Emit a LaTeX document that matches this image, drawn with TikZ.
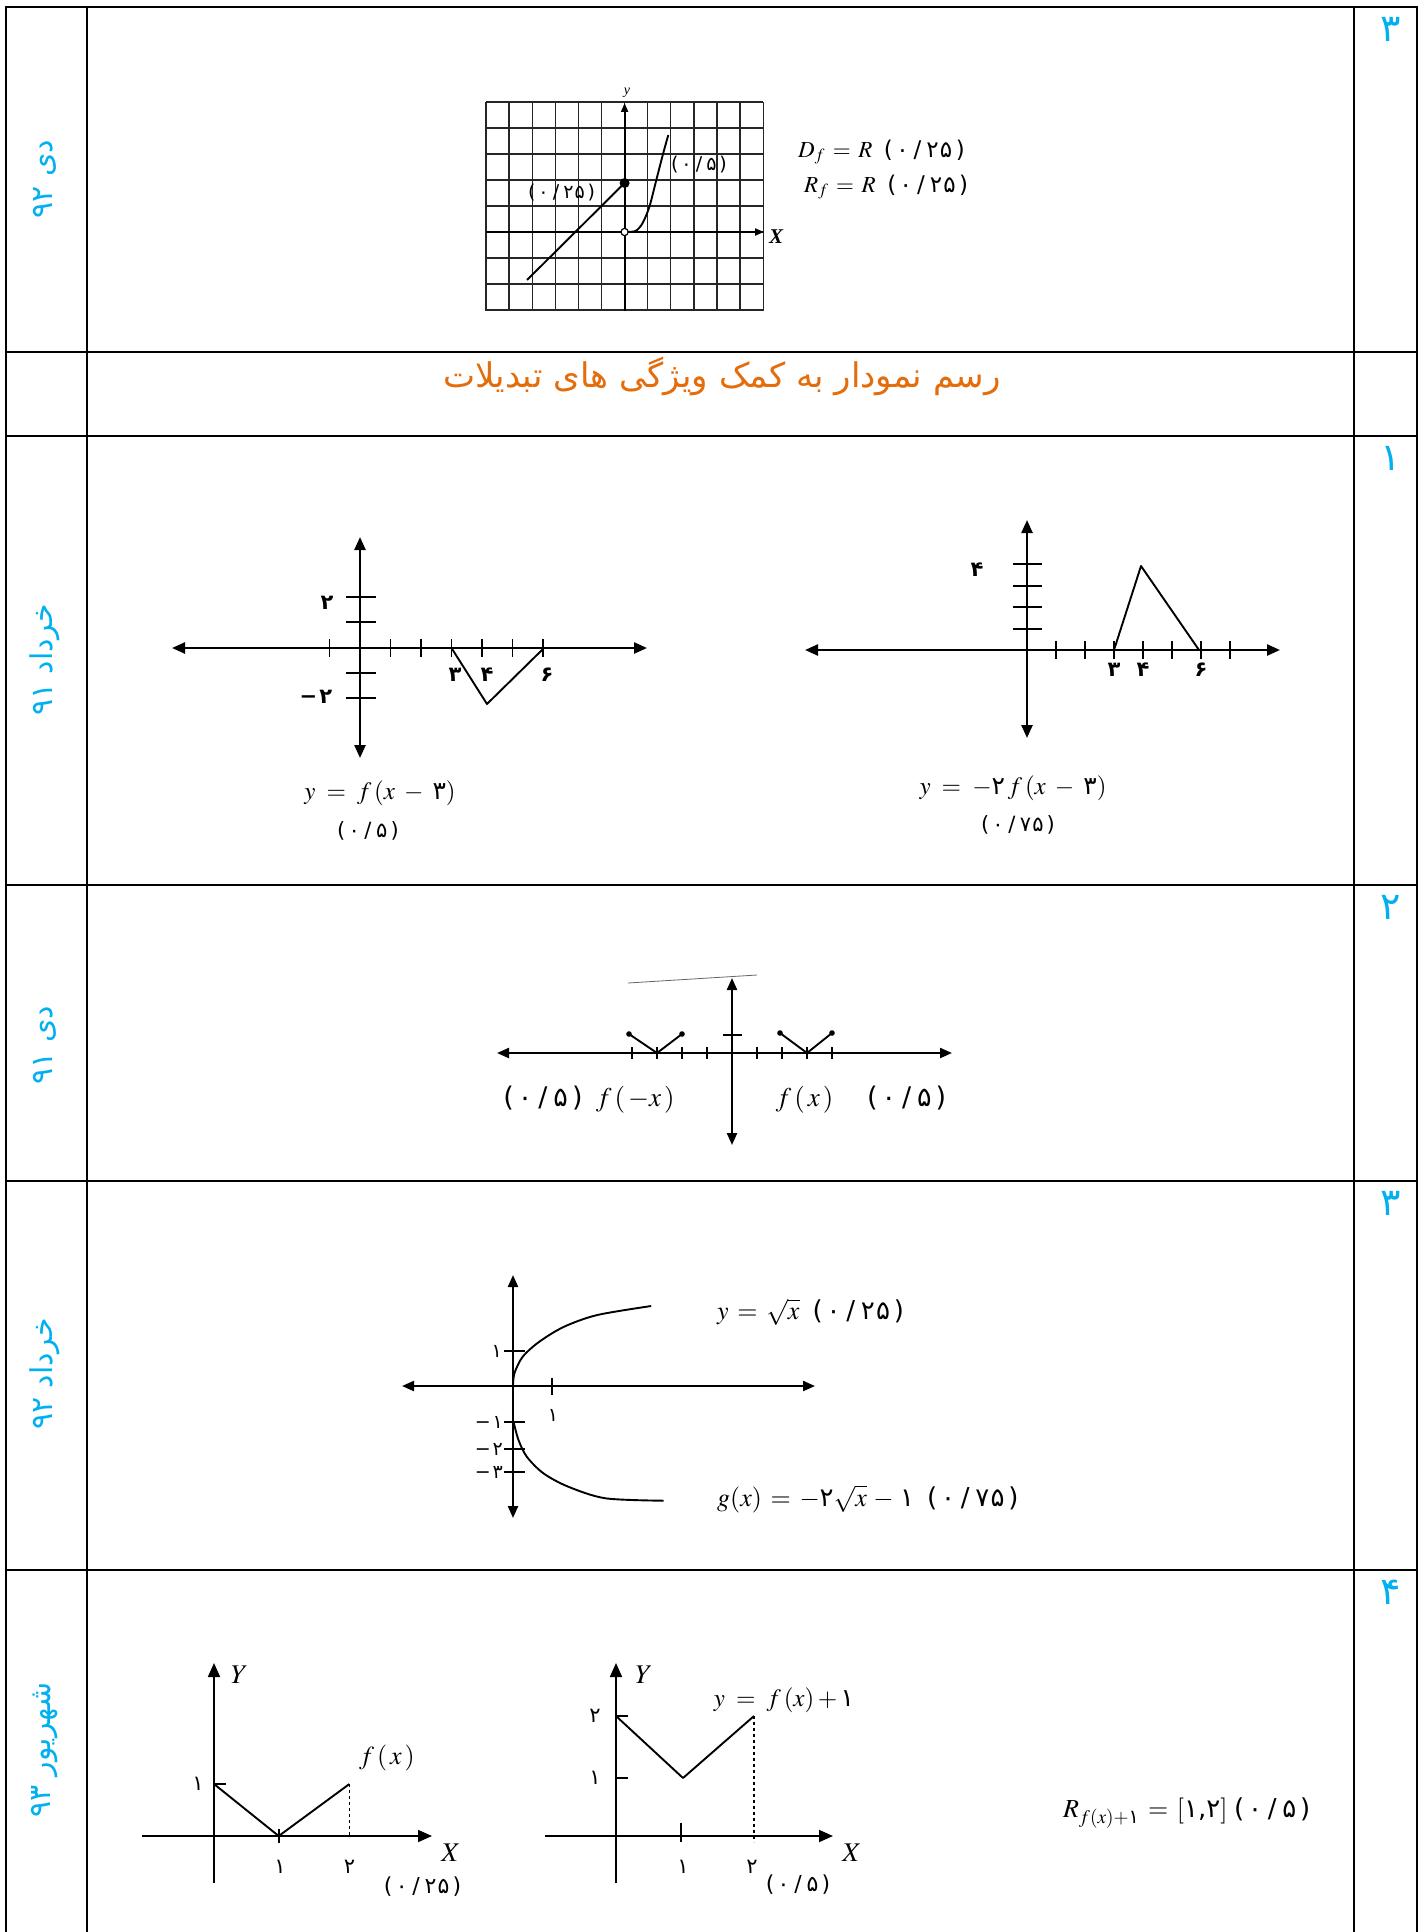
\documentclass[tikz,border=0pt]{standalone}
\usepackage{amsmath}
\usepackage{mathptmx}
\usepackage{fontspec}
\setmainfont{Liberation Serif}
\usetikzlibrary{arrows.meta}
\TeXXeTstate=1
\newfontfamily\arabicfont[Script=Arabic]{DejaVu Sans}
\newfontfamily\pnum{DejaVu Sans}
\newcommand{\pn}[1]{\text{\pnum #1}}
\newcommand{\mk}[1]{\text{\pnum(\kern.15em ۰\kern.22em/\kern.22em #1\kern.15em)}}
\newcommand{\fsz}[1]{\fontsize{#1}{#1}\selectfont}
\definecolor{cy}{RGB}{0,176,240}
\definecolor{org}{RGB}{228,108,10}
\tikzset{
  frame/.style={line width=2.2pt, line cap=rect},
  gridl/.style={line width=1.3pt, black!85},
  gax/.style={line width=2pt, -{Triangle[length=9pt,width=7pt]}},
  axb/.style={line width=2.4pt, {Triangle[length=13pt,width=11pt]}-{Triangle[length=13pt,width=11pt]}},
  axs/.style={line width=2.2pt, {Triangle[length=12pt,width=10pt]}-{Triangle[length=12pt,width=10pt]}},
  axo/.style={line width=1.8pt, -{Triangle[length=14pt,width=12pt]}},
  fn/.style={line width=1.9pt, line join=round},
  tk/.style={line width=1.8pt},
  lbl/.style={inner sep=0pt, font=\fsz{22}},
  sm/.style={inner sep=0pt, font=\fsz{21}\bfseries},
  th/.style={inner sep=0pt, font=\fsz{21}},
  lcol/.style={rotate=90, text=cy, inner sep=0pt, font=\fsz{30}},
  num/.style={text=cy, inner sep=0pt, font=\fsz{38}},
}
\begin{document}
\begin{tikzpicture}[x=1pt,y=-1pt]
\useasboundingbox (0,0) rectangle (1426,1932);
\fill[white] (0,0) rectangle (1426,1932);
% ---------- table ----------
\foreach \yy in {7,352,436,885,1181,1570} \draw[frame] (6,\yy) -- (1417,\yy);
\foreach \xx in {6,87,1354,1417} \draw[frame] (\xx,7) -- (\xx,1932);
% right column numbers
\node[num] (n1) at (1391,29) {\arabicfont ۳};
\node[num] (n3) at (1391,458) {\arabicfont ۱};
\node[num] (n4) at (1391,907) {\arabicfont ۲};
\node[num] (n5) at (1391,1203) {\arabicfont ۳};
\node[num] (n6) at (1391,1592) {\arabicfont ۴};
% left column dates
\node[lcol] (d1) at (45,179) {\arabicfont\beginR دی \beginL۹۲\endL\endR};
\node[lcol] (d3) at (45,660) {\arabicfont\beginR خرداد \beginL۹۱\endL\endR};
\node[lcol] (d4) at (45,1045) {\arabicfont\beginR دی \beginL۹۱\endL\endR};
\node[lcol] (d5) at (45,1374) {\arabicfont\beginR خرداد \beginL۹۲\endL\endR};
\node[lcol] (d6) at (45,1750) {\arabicfont\beginR شهریور \beginL۹۳\endL\endR};
% title
\node[text=org, inner sep=0pt, font=\fsz{34}] (title) at (722,376) {\arabicfont\beginR رسم نمودار به کمک ویژگی های تبدیلات\endR};
% ---------- row 1 : grid graph ----------
\foreach \i in {0,...,12} \draw[gridl] ({486+23.1*\i},102) -- ({486+23.1*\i},311);
\foreach \j in {0,...,8} \draw[gridl] (486,{102+26*\j}) -- (763,{102+26*\j});
\draw[gax] (624.6,311) -- (624.6,103);
\draw[gax] (486,232) -- (764,232);
\node[inner sep=0pt, font=\fsz{14}\itshape] (ylab1) at (627,93) {y};
\node[inner sep=0pt, font=\fsz{21}\bfseries\itshape] (xlab1) at (776,237) {X};
\draw[fn] (527,280) -- (624.6,183);
\fill (624.6,183) circle (5);
\draw[fn] plot[smooth] coordinates {(627,231.7) (635.6,231) (642.5,223.3) (649.4,206.7) (656.3,180) (663.2,153.3) (668.3,135)};
\draw[line width=1.2pt, fill=white] (624.6,232) circle (3.6);
\node[lbl, font=\fsz{19}] (s1a) at (561.6,193) {\mk{۲\kern.05em۵}};
\node[lbl, font=\fsz{19}] (s1b) at (699,165) {\mk{۵}};
\node[lbl, anchor=west, font=\fsz{23}] (df) at (798,152) {$\boldsymbol{D_f \,=\, R}$\ \ \mk{۲\kern.05em۵}};
\node[lbl, anchor=west, font=\fsz{23}] (rf) at (804,187) {$\boldsymbol{R_f \,=\, R}$\ \ \mk{۲\kern.05em۵}};
% ---------- row 3 left ----------
\draw[axb] (172,648) -- (647,648);
\draw[axb] (360,537) -- (360,758);
\foreach \k in {-1,1,2,3,4,5,6} \draw[tk] ({360+30.5*\k},639) -- ({360+30.5*\k},657);
\foreach \yy in {597,622,673,698} \draw[tk] (346,\yy) -- (376,\yy);
\draw[fn] (451.5,648) -- (487,704) -- (543,649);
\node[sm] (a2) at (327,603) {\pn{۲}};
\node[sm] (am2) at (316,697) {\pn{−\kern.1em۲}};
\node[sm] (a3) at (455,675) {\pn{۳}};
\node[sm] (a4) at (487,675) {\pn{۴}};
\node[sm] (a6) at (547,675) {\pn{۶}};
\node[lbl, font=\fsz{25}] (capa) at (380,793) {$y \;=\; f\,(x \;-\; \pn{۳})$};
\node[lbl, font=\fsz{21}] (pa) at (368,831) {\mk{۵}};
% ---------- row 3 right ----------
\draw[axb] (805,650) -- (1280,650);
\draw[axb] (1027,520) -- (1027,738);
\foreach \k in {1,...,7} \draw[tk] ({1027+29*\k},641) -- ({1027+29*\k},659);
\foreach \yy in {629,607,586,564} \draw[tk] (1013,\yy) -- (1042,\yy);
\draw[fn] (1114,650) -- (1141,566) -- (1199,650);
\node[sm] (b4y) at (977,570) {\pn{۴}};
\node[sm] (b3) at (1114,670) {\pn{۳}};
\node[sm] (b4) at (1143,670) {\pn{۴}};
\node[sm] (b6) at (1201,670) {\pn{۶}};
\node[lbl, font=\fsz{25}] (capb) at (1013,788) {$y \;=\; -\pn{۲}\,f\,(x \;-\; \pn{۳})$};
\node[lbl, font=\fsz{21}] (pb) at (1018,825) {\mk{۷\kern.05em۵}};
% ---------- row 4 ----------
\draw[line width=0.8pt, black!60] (628,983) -- (757,975);
\draw[axs] (497,1053) -- (952,1053);
\draw[axs] (732,978) -- (732,1145);
\foreach \k in {-4,-3,-2,-1,1,2,3,4} \draw[line width=1.6pt] ({732+25*\k},1047) -- ({732+25*\k},1059);
\draw[line width=1.6pt] (723,1035) -- (742,1035);
\draw[fn] (629,1034) -- (657,1053) -- (682,1034);
\draw[fn] (780,1033) -- (807,1053) -- (832,1033);
\foreach \p in {(629,1034),(682,1034),(780,1033),(832,1033)} \fill \p circle (2.8);
\node[lbl, font=\fsz{27}] (fl) at (589,1100) {\mk{۵}\ \ $f\,(\,-x\,)$};
\node[lbl, font=\fsz{27}] (fr) at (861,1100) {$f\,(\,x\,)$\quad\ \mk{۵}};
% ---------- row 5 ----------
\draw[axs] (402,1386) -- (815,1386);
\draw[axs] (513,1275) -- (513,1518);
\draw[tk] (552,1378) -- (552,1395);
\foreach \yy in {1351,1422,1449,1472} \draw[tk] (504,\yy) -- (525,\yy);
\draw[fn] plot[smooth] coordinates {(513,1386) (514.4,1373.3) (522.7,1356.7) (539.3,1341.7) (564.1,1326.7) (597.3,1315) (651.2,1306)};
\draw[fn] plot[smooth] coordinates {(513.5,1421.7) (518.5,1440) (526.8,1456.7) (543.4,1473.3) (568.3,1486.7) (605.6,1498.3) (663.6,1500.7)};
\node[th, anchor=east, font=\fsz{19}] (c1) at (502,1351) {\pn{۱}};
\node[th, anchor=east, font=\fsz{19}] (cm1) at (503,1422) {\pn{−\kern.1em۱}};
\node[th, anchor=east, font=\fsz{19}] (cm2) at (503,1449) {\pn{−\kern.1em۲}};
\node[th, anchor=east, font=\fsz{19}] (cm3) at (503,1472) {\pn{−\kern.1em۳}};
\node[th, font=\fsz{19}] (cx1) at (553,1415) {\pn{۱}};
\node[lbl, anchor=west, font=\fsz{26}] (sq) at (717,1312) {$y \,=\, \sqrt{x}$\ \ \mk{۲\kern.05em۵}};
\node[lbl, anchor=west, font=\fsz{26}] (gx) at (717,1499) {$g(x) \,=\, -\pn{۲}\sqrt{x} \,-\, \pn{۱}$\ \ \mk{۷\kern.05em۵}};
% ---------- row 6 left ----------
\draw[axo] (142,1836) -- (432,1836);
\draw[axo] (214,1883) -- (214,1663);
\draw[tk] (214,1784) -- (226,1784);
\draw[tk] (278.7,1829) -- (278.7,1843);
\draw[fn] (214,1784) -- (278.7,1836) -- (349.4,1784);
\draw[line width=1.5pt, dashed] (349.4,1784) -- (349.4,1836);
\node[th] (e1y) at (198,1784) {\pn{۱}};
\node[th] (e1) at (280,1867) {\pn{۱}};
\node[th] (e2) at (349.4,1867) {\pn{۲}};
\node[lbl, font=\fsz{27}] (eY) at (239.5,1675) {$Y$};
\node[lbl, font=\fsz{27}] (eX) at (451,1853) {$X$};
\node[lbl, font=\fsz{26}] (ef) at (387,1758) {$f\,(\,x\,)$};
\node[lbl, font=\fsz{22}] (ep) at (422.6,1887) {\mk{۲\kern.05em۵}};
% ---------- row 6 right ----------
\draw[axo] (545,1836) -- (833,1836);
\draw[axo] (616,1883) -- (616,1663);
\draw[tk] (616,1716) -- (628,1716);
\draw[tk] (616,1778) -- (628,1778);
\draw[tk] (681,1823) -- (681,1842);
\draw[fn] (616,1716) -- (683,1778) -- (754,1716);
\draw[line width=1.5pt, dashed] (754,1716) -- (754,1842);
\node[th] (g2y) at (595,1716) {\pn{۲}};
\node[th] (g1y) at (595,1778) {\pn{۱}};
\node[th] (g1) at (683,1867) {\pn{۱}};
\node[th] (g2) at (752,1867) {\pn{۲}};
\node[lbl, font=\fsz{27}] (gY) at (644,1675) {$Y$};
\node[lbl, font=\fsz{27}] (gX) at (852,1853) {$X$};
\node[lbl, font=\fsz{25}] (gf) at (784,1700) {$y \;=\; f\,(x) + \pn{۱}$};
\node[lbl, font=\fsz{22}] (gp) at (798,1885) {\mk{۵}};
% ---------- range label ----------
\node[lbl, anchor=west, font=\fsz{26}] (rr) at (1063,1813) {$R_{f(x)+\pn{۱}} \,=\, [\pn{۱,۲}]$\ \mk{۵}};
\end{tikzpicture}
\end{document}
